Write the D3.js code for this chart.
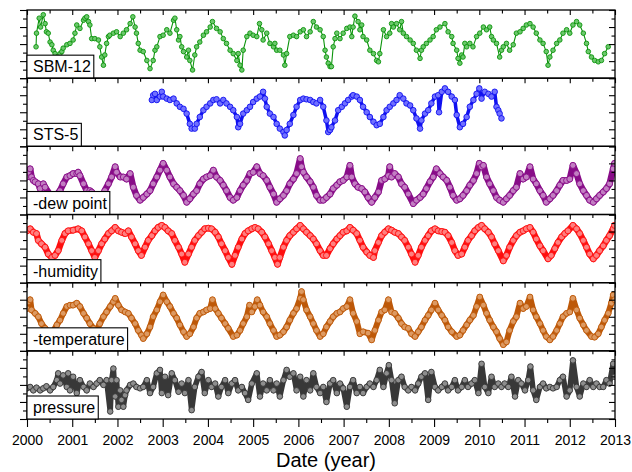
<!DOCTYPE html>
<html><head><meta charset="utf-8">
<script src="https://cdn.jsdelivr.net/npm/d3@7"></script>
<style>body{margin:0;background:#fff}svg{display:block;font-family:"Liberation Sans",Arial,Helvetica,sans-serif}</style>
</head><body><svg id="c" width="632" height="472"></svg>
<script>
const yearTicks = [2000,2001,2002,2003,2004,2005,2006,2007,2008,2009,2010,2011,2012,2013];
const panelLabels = ["SBM-12","STS-5","-dew point","-humidity","-temperature","pressure"];
const xTitle = "Date (year)";

// values: relative level within each panel (0 = panel bottom, 100 = panel top)
const sbm12 = [[2000.20,46],[2000.21,66],[2000.27,88],[2000.30,75],[2000.36,93],[2000.40,80],[2000.43,68],[2000.47,66],[2000.51,53],[2000.55,49],[2000.58,41],[2000.62,36],[2000.67,31],[2000.73,36],[2000.77,39],[2000.80,44],[2000.88,49],[2000.95,51],[2001.02,56],[2001.06,66],[2001.10,78],[2001.17,73],[2001.25,85],[2001.28,88],[2001.32,90],[2001.36,83],[2001.39,78],[2001.43,58],[2001.50,58],[2001.58,56],[2001.61,46],[2001.65,31],[2001.69,19],[2001.72,34],[2001.76,51],[2001.80,61],[2001.83,63],[2001.91,66],[2001.98,68],[2002.06,61],[2002.13,66],[2002.20,71],[2002.28,80],[2002.34,90],[2002.39,75],[2002.42,66],[2002.46,51],[2002.50,41],[2002.57,39],[2002.65,26],[2002.72,14],[2002.79,26],[2002.83,41],[2002.87,46],[2002.94,61],[2003.01,63],[2003.09,71],[2003.16,66],[2003.24,85],[2003.27,88],[2003.31,71],[2003.35,56],[2003.38,61],[2003.42,46],[2003.46,39],[2003.53,31],[2003.57,41],[2003.60,26],[2003.66,12],[2003.71,34],[2003.75,46],[2003.82,53],[2003.90,63],[2003.97,68],[2004.05,75],[2004.10,83],[2004.19,73],[2004.27,68],[2004.34,58],[2004.41,51],[2004.49,41],[2004.56,36],[2004.64,26],[2004.67,36],[2004.71,19],[2004.75,12],[2004.78,41],[2004.86,61],[2004.93,66],[2005.00,63],[2005.08,61],[2005.14,80],[2005.19,71],[2005.22,56],[2005.30,66],[2005.37,51],[2005.45,46],[2005.48,51],[2005.52,41],[2005.59,41],[2005.67,34],[2005.70,19],[2005.74,36],[2005.81,61],[2005.89,63],[2005.96,61],[2006.04,68],[2006.11,71],[2006.18,61],[2006.26,68],[2006.33,83],[2006.40,75],[2006.48,71],[2006.55,61],[2006.59,41],[2006.62,31],[2006.66,22],[2006.70,17],[2006.73,17],[2006.77,46],[2006.81,58],[2006.85,66],[2006.92,58],[2006.99,66],[2007.07,73],[2007.14,75],[2007.18,61],[2007.21,75],[2007.25,91],[2007.32,83],[2007.36,71],[2007.40,78],[2007.43,61],[2007.51,56],[2007.58,41],[2007.66,36],[2007.73,26],[2007.77,24],[2007.80,36],[2007.88,71],[2007.95,61],[2008.02,66],[2008.06,80],[2008.10,75],[2008.17,80],[2008.24,71],[2008.28,83],[2008.32,66],[2008.39,61],[2008.47,56],[2008.54,51],[2008.61,41],[2008.69,29],[2008.72,41],[2008.76,46],[2008.83,51],[2008.91,56],[2008.98,61],[2009.05,71],[2009.13,75],[2009.24,80],[2009.31,68],[2009.39,61],[2009.42,51],[2009.50,41],[2009.53,29],[2009.57,22],[2009.61,34],[2009.64,31],[2009.68,51],[2009.72,46],[2009.79,51],[2009.86,46],[2009.94,61],[2010.01,66],[2010.09,75],[2010.16,71],[2010.23,75],[2010.27,61],[2010.31,56],[2010.38,51],[2010.45,31],[2010.49,41],[2010.53,46],[2010.60,51],[2010.67,41],[2010.75,49],[2010.82,66],[2010.90,68],[2010.97,73],[2011.04,78],[2011.12,80],[2011.19,75],[2011.26,66],[2011.34,56],[2011.41,51],[2011.48,39],[2011.52,19],[2011.56,31],[2011.63,41],[2011.71,51],[2011.78,56],[2011.85,66],[2011.93,71],[2012.00,66],[2012.07,78],[2012.15,83],[2012.22,78],[2012.30,66],[2012.37,51],[2012.41,39],[2012.48,31],[2012.55,26],[2012.63,24],[2012.70,26],[2012.77,36],[2012.85,46]];

const sts5 = [[2002.76,68],[2002.79,75],[2002.83,77],[2002.87,68],[2002.94,73],[2002.98,80],[2003.01,73],[2003.09,70],[2003.16,68],[2003.24,70],[2003.31,63],[2003.38,58],[2003.46,55],[2003.53,48],[2003.60,33],[2003.64,26],[2003.71,26],[2003.75,33],[2003.82,43],[2003.90,53],[2003.97,58],[2004.05,63],[2004.12,68],[2004.19,69],[2004.27,63],[2004.34,68],[2004.41,63],[2004.49,58],[2004.56,53],[2004.64,43],[2004.67,28],[2004.71,33],[2004.78,48],[2004.86,53],[2004.93,58],[2005.00,65],[2005.08,70],[2005.15,73],[2005.22,80],[2005.26,70],[2005.30,58],[2005.37,48],[2005.45,43],[2005.52,33],[2005.59,26],[2005.67,21],[2005.70,16],[2005.74,24],[2005.81,33],[2005.89,46],[2005.96,58],[2006.04,68],[2006.11,70],[2006.18,69],[2006.26,68],[2006.33,65],[2006.40,63],[2006.48,68],[2006.55,58],[2006.62,38],[2006.66,21],[2006.70,24],[2006.73,28],[2006.81,38],[2006.88,53],[2006.96,58],[2007.03,63],[2007.10,68],[2007.18,73],[2007.21,75],[2007.29,73],[2007.36,68],[2007.43,58],[2007.51,50],[2007.58,43],[2007.66,36],[2007.73,31],[2007.80,33],[2007.88,43],[2007.95,53],[2008.02,58],[2008.10,63],[2008.17,68],[2008.24,75],[2008.32,70],[2008.39,63],[2008.47,60],[2008.54,53],[2008.61,41],[2008.69,26],[2008.72,38],[2008.80,48],[2008.87,53],[2008.94,63],[2009.02,73],[2009.09,75],[2009.11,50],[2009.17,80],[2009.24,85],[2009.31,80],[2009.39,73],[2009.46,68],[2009.50,46],[2009.57,28],[2009.64,33],[2009.72,43],[2009.79,58],[2009.87,68],[2009.94,77],[2010.00,85],[2010.05,70],[2010.12,80],[2010.20,77],[2010.27,73],[2010.34,80],[2010.38,58],[2010.42,53],[2010.45,48],[2010.49,41]];

const dewPoint = [[2000.00,55],[2000.03,62],[2000.07,67],[2000.10,55],[2000.14,50],[2000.18,48],[2000.25,45],[2000.29,38],[2000.36,45],[2000.40,40],[2000.50,30],[2000.62,26],[2000.73,35],[2000.80,45],[2000.88,55],[2000.95,57],[2001.02,60],[2001.10,60],[2001.13,62],[2001.17,57],[2001.25,45],[2001.32,35],[2001.39,35],[2001.43,33],[2001.55,22],[2001.65,20],[2001.72,35],[2001.80,45],[2001.87,55],[2001.95,70],[2001.98,62],[2002.06,55],[2002.13,55],[2002.20,52],[2002.28,60],[2002.35,40],[2002.42,28],[2002.50,21],[2002.57,25],[2002.65,30],[2002.72,35],[2002.79,45],[2002.87,55],[2002.94,65],[2003.01,75],[2003.09,65],[2003.16,55],[2003.24,45],[2003.31,40],[2003.38,35],[2003.46,28],[2003.53,18],[2003.60,23],[2003.68,30],[2003.75,35],[2003.82,45],[2003.90,52],[2003.97,55],[2004.05,57],[2004.12,65],[2004.19,55],[2004.27,50],[2004.34,43],[2004.41,35],[2004.49,25],[2004.56,21],[2004.64,25],[2004.71,35],[2004.78,43],[2004.86,50],[2004.93,60],[2005.00,62],[2005.08,70],[2005.15,60],[2005.22,57],[2005.30,50],[2005.37,40],[2005.45,30],[2005.52,18],[2005.59,23],[2005.67,28],[2005.74,35],[2005.81,45],[2005.89,52],[2005.96,60],[2006.04,82],[2006.07,70],[2006.11,62],[2006.18,55],[2006.26,48],[2006.33,40],[2006.40,28],[2006.48,21],[2006.55,21],[2006.62,25],[2006.70,30],[2006.77,38],[2006.85,43],[2006.92,48],[2006.99,50],[2007.07,55],[2007.14,72],[2007.18,55],[2007.25,45],[2007.32,40],[2007.40,38],[2007.47,33],[2007.54,25],[2007.62,18],[2007.69,25],[2007.77,33],[2007.84,50],[2007.91,52],[2007.99,57],[2008.02,70],[2008.06,55],[2008.13,60],[2008.21,55],[2008.28,45],[2008.35,40],[2008.43,30],[2008.54,16],[2008.61,21],[2008.69,25],[2008.76,30],[2008.83,38],[2008.91,48],[2008.98,55],[2009.05,67],[2009.13,60],[2009.20,55],[2009.28,50],[2009.35,40],[2009.42,28],[2009.50,21],[2009.57,23],[2009.64,28],[2009.72,35],[2009.79,43],[2009.87,50],[2009.94,60],[2010.00,75],[2010.05,70],[2010.09,72],[2010.16,55],[2010.23,45],[2010.31,35],[2010.38,25],[2010.45,21],[2010.53,18],[2010.60,23],[2010.67,28],[2010.75,35],[2010.82,40],[2010.90,60],[2010.97,52],[2011.04,55],[2011.12,70],[2011.19,52],[2011.26,45],[2011.34,35],[2011.41,28],[2011.48,18],[2011.56,23],[2011.63,28],[2011.71,35],[2011.78,43],[2011.85,50],[2011.93,50],[2012.00,52],[2012.07,72],[2012.15,60],[2012.22,45],[2012.30,35],[2012.37,28],[2012.44,21],[2012.52,18],[2012.59,23],[2012.66,28],[2012.74,33],[2012.81,38],[2012.88,45],[2012.96,67],[2012.99,75]];

const humidity = [[2000.00,76],[2000.07,79],[2000.14,74],[2000.21,72],[2000.25,62],[2000.32,57],[2000.40,52],[2000.47,42],[2000.55,37],[2000.62,40],[2000.69,47],[2000.77,62],[2000.84,72],[2000.91,76],[2001.02,77],[2001.13,79],[2001.21,76],[2001.28,67],[2001.36,57],[2001.43,47],[2001.50,37],[2001.58,47],[2001.65,57],[2001.72,64],[2001.80,72],[2001.87,76],[2001.95,81],[2002.02,76],[2002.09,74],[2002.17,72],[2002.24,76],[2002.31,67],[2002.39,57],[2002.46,47],[2002.53,40],[2002.61,52],[2002.68,62],[2002.76,69],[2002.83,76],[2002.90,81],[2002.98,84],[2003.05,81],[2003.12,76],[2003.20,72],[2003.27,62],[2003.35,52],[2003.42,42],[2003.49,30],[2003.57,42],[2003.64,52],[2003.71,62],[2003.79,69],[2003.86,74],[2003.93,79],[2004.01,80],[2004.08,79],[2004.16,74],[2004.23,67],[2004.30,57],[2004.38,47],[2004.45,37],[2004.53,27],[2004.60,40],[2004.67,52],[2004.75,64],[2004.82,72],[2004.89,76],[2004.97,79],[2005.04,81],[2005.11,79],[2005.19,74],[2005.26,67],[2005.34,57],[2005.41,47],[2005.48,37],[2005.54,27],[2005.59,37],[2005.67,52],[2005.74,62],[2005.81,69],[2005.89,74],[2005.96,79],[2006.04,84],[2006.11,79],[2006.18,74],[2006.26,69],[2006.33,64],[2006.40,57],[2006.48,47],[2006.55,40],[2006.62,40],[2006.70,50],[2006.77,57],[2006.85,64],[2006.92,69],[2006.99,74],[2007.07,76],[2007.14,81],[2007.21,77],[2007.29,72],[2007.36,62],[2007.43,52],[2007.51,45],[2007.58,40],[2007.66,37],[2007.69,47],[2007.77,59],[2007.84,69],[2007.91,74],[2007.99,79],[2008.06,77],[2008.13,74],[2008.21,72],[2008.28,67],[2008.35,62],[2008.43,52],[2008.50,42],[2008.58,30],[2008.65,40],[2008.72,52],[2008.80,62],[2008.87,69],[2008.94,76],[2009.02,79],[2009.09,76],[2009.17,75],[2009.24,74],[2009.31,69],[2009.39,59],[2009.46,47],[2009.53,40],[2009.61,42],[2009.68,52],[2009.75,62],[2009.83,69],[2009.90,76],[2009.98,81],[2010.05,84],[2010.12,79],[2010.20,74],[2010.27,67],[2010.34,57],[2010.42,47],[2010.53,32],[2010.60,40],[2010.67,52],[2010.75,62],[2010.82,69],[2010.90,74],[2010.97,76],[2011.04,79],[2011.12,81],[2011.19,74],[2011.26,64],[2011.34,54],[2011.41,47],[2011.52,35],[2011.59,40],[2011.67,50],[2011.74,59],[2011.82,67],[2011.89,72],[2011.96,76],[2012.07,84],[2012.15,79],[2012.22,72],[2012.30,62],[2012.37,52],[2012.44,42],[2012.52,35],[2012.59,40],[2012.66,47],[2012.74,54],[2012.81,62],[2012.88,69],[2012.96,79],[2012.99,84]];

const temperature = [[2000.00,62],[2000.03,72],[2000.07,75],[2000.10,60],[2000.18,55],[2000.25,50],[2000.32,40],[2000.40,33],[2000.48,28],[2000.57,28],[2000.66,38],[2000.73,45],[2000.80,55],[2000.88,65],[2000.95,67],[2001.02,67],[2001.10,70],[2001.17,65],[2001.25,55],[2001.32,48],[2001.39,40],[2001.47,33],[2001.53,28],[2001.61,40],[2001.69,50],[2001.76,57],[2001.84,65],[2001.91,72],[2001.95,77],[2002.02,67],[2002.09,60],[2002.17,57],[2002.24,55],[2002.31,48],[2002.39,40],[2002.46,30],[2002.53,23],[2002.57,18],[2002.65,25],[2002.72,35],[2002.79,50],[2002.87,60],[2002.94,72],[2003.01,82],[2003.09,72],[2003.16,65],[2003.24,55],[2003.31,48],[2003.38,38],[2003.46,28],[2003.53,21],[2003.60,25],[2003.68,35],[2003.75,48],[2003.82,55],[2003.90,57],[2003.97,60],[2004.05,62],[2004.10,75],[2004.16,62],[2004.23,55],[2004.30,48],[2004.38,40],[2004.45,33],[2004.56,21],[2004.64,23],[2004.71,30],[2004.78,40],[2004.86,50],[2004.92,67],[2004.97,57],[2005.04,65],[2005.09,75],[2005.15,67],[2005.22,57],[2005.30,50],[2005.37,40],[2005.45,30],[2005.52,21],[2005.59,23],[2005.67,28],[2005.74,35],[2005.81,45],[2005.89,55],[2005.96,62],[2006.04,77],[2006.07,87],[2006.11,75],[2006.18,60],[2006.26,50],[2006.33,40],[2006.40,30],[2006.48,21],[2006.55,25],[2006.62,35],[2006.70,43],[2006.77,50],[2006.85,55],[2006.92,57],[2006.99,62],[2007.07,65],[2007.14,75],[2007.21,55],[2007.29,43],[2007.36,25],[2007.43,28],[2007.54,26],[2007.62,16],[2007.69,30],[2007.77,45],[2007.84,57],[2007.91,60],[2007.99,75],[2008.06,57],[2008.13,55],[2008.21,48],[2008.28,40],[2008.35,35],[2008.43,33],[2008.50,25],[2008.58,21],[2008.65,28],[2008.72,35],[2008.80,45],[2008.87,52],[2008.94,60],[2009.02,70],[2009.09,60],[2009.17,52],[2009.24,45],[2009.31,35],[2009.39,28],[2009.50,21],[2009.57,23],[2009.64,30],[2009.72,38],[2009.79,45],[2009.87,52],[2009.94,65],[2010.01,79],[2010.09,67],[2010.16,55],[2010.23,45],[2010.31,35],[2010.38,28],[2010.45,18],[2010.53,9],[2010.60,13],[2010.67,30],[2010.75,43],[2010.82,50],[2010.90,70],[2010.97,62],[2011.04,65],[2011.12,79],[2011.19,60],[2011.26,50],[2011.34,40],[2011.41,30],[2011.48,21],[2011.56,16],[2011.63,21],[2011.71,30],[2011.78,40],[2011.85,50],[2011.93,55],[2012.00,57],[2012.07,77],[2012.15,60],[2012.22,48],[2012.30,38],[2012.37,30],[2012.48,21],[2012.55,20],[2012.63,25],[2012.70,35],[2012.77,45],[2012.85,55],[2012.92,70],[2012.96,82],[2012.99,75]];

const pressure = [[2000.00,45],[2000.07,47],[2000.14,42],[2000.21,46],[2000.29,42],[2000.36,45],[2000.43,48],[2000.51,42],[2000.58,47],[2000.66,57],[2000.69,67],[2000.73,52],[2000.80,64],[2000.88,47],[2000.91,67],[2000.95,42],[2001.02,62],[2001.10,38],[2001.17,57],[2001.25,47],[2001.32,42],[2001.39,52],[2001.47,47],[2001.54,52],[2001.61,57],[2001.69,50],[2001.76,57],[2001.84,11],[2001.87,57],[2001.91,74],[2001.95,33],[2001.98,57],[2002.02,18],[2002.06,42],[2002.09,28],[2002.13,18],[2002.17,35],[2002.20,42],[2002.28,50],[2002.35,52],[2002.42,47],[2002.50,45],[2002.57,47],[2002.65,57],[2002.72,38],[2002.79,47],[2002.87,67],[2002.94,72],[2002.98,38],[2003.05,62],[2003.12,35],[2003.20,67],[2003.27,57],[2003.35,40],[2003.42,52],[2003.49,38],[2003.57,57],[2003.64,13],[2003.71,47],[2003.79,62],[2003.86,69],[2003.93,38],[2004.01,57],[2004.08,47],[2004.16,52],[2004.23,33],[2004.30,47],[2004.38,57],[2004.45,38],[2004.53,52],[2004.60,57],[2004.67,42],[2004.75,47],[2004.82,38],[2004.89,28],[2004.97,52],[2005.08,67],[2005.15,33],[2005.22,52],[2005.30,42],[2005.37,57],[2005.45,42],[2005.52,52],[2005.59,33],[2005.67,57],[2005.74,72],[2005.81,62],[2005.89,67],[2005.96,42],[2006.04,62],[2006.11,33],[2006.18,57],[2006.26,42],[2006.33,67],[2006.40,47],[2006.48,38],[2006.55,47],[2006.62,25],[2006.70,52],[2006.77,57],[2006.85,38],[2006.92,52],[2006.99,45],[2007.07,18],[2007.14,47],[2007.21,57],[2007.29,38],[2007.36,47],[2007.43,38],[2007.51,47],[2007.58,52],[2007.66,47],[2007.73,57],[2007.80,72],[2007.88,47],[2007.95,67],[2008.00,79],[2008.06,57],[2008.13,23],[2008.21,57],[2008.28,62],[2008.35,47],[2008.43,42],[2008.50,47],[2008.58,42],[2008.65,52],[2008.72,62],[2008.80,67],[2008.87,28],[2008.94,69],[2009.02,47],[2009.09,42],[2009.17,47],[2009.24,52],[2009.31,42],[2009.39,47],[2009.46,57],[2009.53,42],[2009.61,47],[2009.68,57],[2009.75,47],[2009.83,52],[2009.90,57],[2009.98,38],[2010.05,81],[2010.12,47],[2010.20,38],[2010.27,62],[2010.34,47],[2010.42,52],[2010.49,47],[2010.56,52],[2010.64,47],[2010.71,62],[2010.79,33],[2010.86,57],[2010.93,52],[2011.01,42],[2011.08,57],[2011.13,77],[2011.19,42],[2011.26,28],[2011.34,47],[2011.41,52],[2011.48,45],[2011.56,47],[2011.63,45],[2011.71,47],[2011.78,57],[2011.85,62],[2011.93,33],[2012.00,42],[2012.07,86],[2012.15,47],[2012.22,33],[2012.30,52],[2012.37,47],[2012.44,57],[2012.52,47],[2012.59,52],[2012.66,47],[2012.74,47],[2012.81,57],[2012.88,52],[2012.96,81],[2012.99,62]];

const seriesList = [sbm12, sts5, dewPoint, humidity, temperature, pressure];
const strokeColors = ["#0a930a","#1010f0","#880c88","#ff0e0e","#bd5808","#383838"];
const fillColors   = ["#6cc86c","#7070ff","#c27ec2","#ff7f7f","#dd9a62","#8e8e8e"];
const lineWidths   = [1.1, 3.5, 6.5, 6.5, 6, 5.5];
const markerR      = [2.3, 2.8, 3, 3, 2.9, 2.8];

const svg = d3.select("#c");
const left = 27, right = 615, top0 = 10, bottom0 = 419;
const nP = 6, pH = (bottom0 - top0) / nP;

const x = d3.scaleLinear().domain([2000, 2013]).range([left, right]);
const halfYears = d3.range(2000.5, 2013, 1);

seriesList.forEach((data, i) => {
  const pTop = top0 + i * pH, pBot = pTop + pH;
  const y = d3.scaleLinear().domain([0, 100]).range([pBot, pTop]);
  const g = svg.append("g");
  const clipId = "clip" + i;
  svg.append("clipPath").attr("id", clipId).append("rect")
    .attr("x", left).attr("y", pTop).attr("width", right - left).attr("height", pH);

  const sorted = d3.sort(data, d => d[0]);
  const dg = g.append("g").attr("clip-path", `url(#${clipId})`);
  const line = d3.line().x(d => x(d[0])).y(d => y(d[1]));
  dg.append("path").datum(sorted).attr("d", line)
    .attr("fill", "none").attr("stroke", strokeColors[i])
    .attr("stroke-width", lineWidths[i]).attr("stroke-linejoin", "round").attr("stroke-linecap", "round");
  dg.selectAll("circle").data(sorted).join("circle")
    .attr("cx", d => x(d[0])).attr("cy", d => y(d[1])).attr("r", markerR[i])
    .attr("fill", fillColors[i]).attr("stroke", strokeColors[i]).attr("stroke-width", 0.9);

  // top ticks pointing inward
  const tg = g.append("g").attr("transform", `translate(0,${pTop})`);
  tg.call(d3.axisBottom(x).tickValues(yearTicks).tickSize(5).tickFormat(""));
  tg.append("g").call(d3.axisBottom(x).tickValues(halfYears).tickSize(3.5).tickFormat(""));
  tg.selectAll(".domain").remove();

  // left ticks (outward)
  const lg = g.append("g").attr("transform", `translate(${left},0)`);
  lg.call(d3.axisLeft(y).tickValues([0,25,50,75,100]).tickSize(7).tickFormat(""));
  lg.append("g").call(d3.axisLeft(y).tickValues([12.5,37.5,62.5,87.5]).tickSize(4).tickFormat(""));
  lg.selectAll(".domain").remove();

  // right ticks (inward)
  const rg = g.append("g").attr("transform", `translate(${right},0)`);
  rg.call(d3.axisRight(y).tickValues([0,25,50,75,100]).tickSize(-6).tickFormat(""));
  rg.append("g").call(d3.axisRight(y).tickValues([12.5,37.5,62.5,87.5]).tickSize(-3.5).tickFormat(""));
  rg.selectAll(".domain").remove();

  g.selectAll(".tick line").attr("stroke", "#000").attr("stroke-width", 1.1);

  // frame
  g.append("rect").attr("x", left).attr("y", pTop).attr("width", right - left).attr("height", pH)
    .attr("fill", "none").attr("stroke", "#000").attr("stroke-width", 1.3);

  // label box
  const lab = g.append("g");
  const box = lab.append("rect").attr("fill", "#fff").attr("stroke", "#000").attr("stroke-width", 1.1);
  const t = lab.append("text").attr("x", left + 6).attr("y", pBot - 6)
    .attr("font-size", 16).attr("fill", "#000").text(panelLabels[i]);
  const tw = t.node().getComputedTextLength();
  box.attr("x", left).attr("y", pBot - 23).attr("width", tw + 9).attr("height", 23);
});

// bottom axis
const bg = svg.append("g").attr("transform", `translate(0,${bottom0})`);
bg.call(d3.axisBottom(x).tickValues(yearTicks).tickSize(8).tickPadding(8).tickFormat(d3.format("d")));
bg.append("g").call(d3.axisBottom(x).tickValues(halfYears).tickSize(4).tickFormat(""));
bg.selectAll(".domain").remove();
bg.selectAll(".tick line").attr("stroke", "#000").attr("stroke-width", 1.1);
bg.selectAll("text").attr("font-size", 14).attr("fill", "#000")
  .attr("font-family", "'Liberation Sans', Arial, sans-serif");

svg.append("text").attr("x", 326).attr("y", 467).attr("text-anchor", "middle")
  .attr("font-size", 20).attr("fill", "#000").text(xTitle);
</script>
</body></html>
